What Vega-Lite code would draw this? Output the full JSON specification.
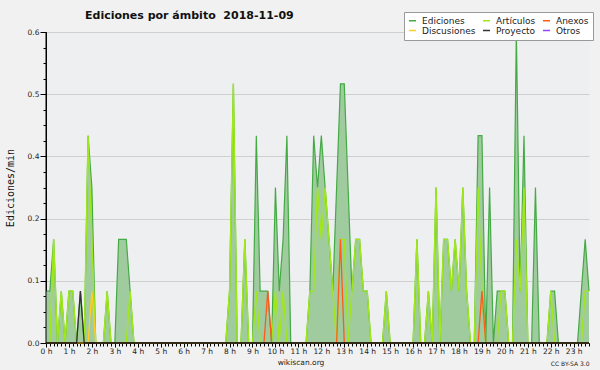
{
 "$schema": "https://vega.github.io/schema/vega-lite/v6.json",
 "width": 543, "height": 311,
 "autosize": {"type": "none"},
 "padding": {"left": 46, "top": 32, "right": 11, "bottom": 27},
 "background": "#f1f1f1",
 "config": {"view": {"fill": "#eeeff1", "stroke": null}, "font": "DejaVu Sans"},
 "title": {"text": "Ediciones por ámbito\u00a0 2018-11-09", "anchor": "start", "frame": "group", "dx": 39, "offset": 0, "dy": 18, "baseline": "alphabetic", "font": "DejaVu Sans", "fontSize": 11, "fontWeight": "bold", "color": "#111111"},
 "data": {"values": [
{"m":0,"e":0.1,"a":0,"x":0,"d":0,"p":0},
{"m":10,"e":0.1,"a":0,"x":0,"d":0,"p":0},
{"m":20,"e":0.2,"a":0.2,"x":0,"d":0,"p":0},
{"m":30,"e":0,"a":0,"x":0,"d":0,"p":0},
{"m":40,"e":0.1,"a":0.1,"x":0,"d":0,"p":0},
{"m":50,"e":0,"a":0,"x":0,"d":0,"p":0},
{"m":60,"e":0.1,"a":0.1,"x":0,"d":0,"p":0},
{"m":70,"e":0.1,"a":0.1,"x":0,"d":0,"p":0},
{"m":80,"e":0,"a":0,"x":0,"d":0,"p":0},
{"m":90,"e":0.1,"a":0,"x":0,"d":0,"p":0.1},
{"m":100,"e":0,"a":0,"x":0,"d":0,"p":0},
{"m":110,"e":0.4,"a":0.4,"x":0,"d":0,"p":0},
{"m":120,"e":0.3,"a":0.2,"x":0,"d":0.1,"p":0},
{"m":130,"e":0,"a":0,"x":0,"d":0,"p":0},
{"m":140,"e":0,"a":0,"x":0,"d":0,"p":0},
{"m":150,"e":0,"a":0,"x":0,"d":0,"p":0},
{"m":160,"e":0.1,"a":0.1,"x":0,"d":0,"p":0},
{"m":170,"e":0,"a":0,"x":0,"d":0,"p":0},
{"m":180,"e":0,"a":0,"x":0,"d":0,"p":0},
{"m":190,"e":0.2,"a":0,"x":0,"d":0,"p":0},
{"m":200,"e":0.2,"a":0,"x":0,"d":0,"p":0},
{"m":210,"e":0.2,"a":0,"x":0,"d":0,"p":0},
{"m":220,"e":0.1,"a":0.1,"x":0,"d":0,"p":0},
{"m":230,"e":0,"a":0,"x":0,"d":0,"p":0},
{"m":240,"e":0,"a":0,"x":0,"d":0,"p":0},
{"m":250,"e":0,"a":0,"x":0,"d":0,"p":0},
{"m":260,"e":0,"a":0,"x":0,"d":0,"p":0},
{"m":270,"e":0,"a":0,"x":0,"d":0,"p":0},
{"m":280,"e":0,"a":0,"x":0,"d":0,"p":0},
{"m":290,"e":0,"a":0,"x":0,"d":0,"p":0},
{"m":300,"e":0,"a":0,"x":0,"d":0,"p":0},
{"m":310,"e":0,"a":0,"x":0,"d":0,"p":0},
{"m":320,"e":0,"a":0,"x":0,"d":0,"p":0},
{"m":330,"e":0,"a":0,"x":0,"d":0,"p":0},
{"m":340,"e":0,"a":0,"x":0,"d":0,"p":0},
{"m":350,"e":0,"a":0,"x":0,"d":0,"p":0},
{"m":360,"e":0,"a":0,"x":0,"d":0,"p":0},
{"m":370,"e":0,"a":0,"x":0,"d":0,"p":0},
{"m":380,"e":0,"a":0,"x":0,"d":0,"p":0},
{"m":390,"e":0,"a":0,"x":0,"d":0,"p":0},
{"m":400,"e":0,"a":0,"x":0,"d":0,"p":0},
{"m":410,"e":0,"a":0,"x":0,"d":0,"p":0},
{"m":420,"e":0,"a":0,"x":0,"d":0,"p":0},
{"m":430,"e":0,"a":0,"x":0,"d":0,"p":0},
{"m":440,"e":0,"a":0,"x":0,"d":0,"p":0},
{"m":450,"e":0,"a":0,"x":0,"d":0,"p":0},
{"m":460,"e":0,"a":0,"x":0,"d":0,"p":0},
{"m":470,"e":0,"a":0,"x":0,"d":0,"p":0},
{"m":480,"e":0.1,"a":0.1,"x":0,"d":0,"p":0},
{"m":490,"e":0.5,"a":0.5,"x":0,"d":0,"p":0},
{"m":500,"e":0,"a":0,"x":0,"d":0,"p":0},
{"m":510,"e":0,"a":0,"x":0,"d":0,"p":0},
{"m":520,"e":0.2,"a":0.2,"x":0,"d":0,"p":0},
{"m":530,"e":0,"a":0,"x":0,"d":0,"p":0},
{"m":540,"e":0,"a":0,"x":0,"d":0,"p":0},
{"m":550,"e":0.4,"a":0.1,"x":0,"d":0,"p":0},
{"m":560,"e":0.1,"a":0,"x":0,"d":0,"p":0},
{"m":570,"e":0.1,"a":0,"x":0,"d":0,"p":0},
{"m":580,"e":0.1,"a":0,"x":0.1,"d":0,"p":0},
{"m":590,"e":0,"a":0,"x":0,"d":0,"p":0},
{"m":600,"e":0.3,"a":0.1,"x":0,"d":0,"p":0},
{"m":610,"e":0.1,"a":0,"x":0,"d":0,"p":0},
{"m":620,"e":0.2,"a":0.1,"x":0,"d":0,"p":0},
{"m":630,"e":0.4,"a":0,"x":0,"d":0,"p":0},
{"m":640,"e":0,"a":0,"x":0,"d":0,"p":0},
{"m":650,"e":0,"a":0,"x":0,"d":0,"p":0},
{"m":660,"e":0,"a":0,"x":0,"d":0,"p":0},
{"m":670,"e":0,"a":0,"x":0,"d":0,"p":0},
{"m":680,"e":0,"a":0,"x":0,"d":0,"p":0},
{"m":690,"e":0.1,"a":0.1,"x":0,"d":0,"p":0},
{"m":700,"e":0.4,"a":0.1,"x":0,"d":0,"p":0},
{"m":710,"e":0.3,"a":0.3,"x":0,"d":0,"p":0},
{"m":720,"e":0.4,"a":0.2,"x":0,"d":0,"p":0},
{"m":730,"e":0.3,"a":0.3,"x":0,"d":0,"p":0},
{"m":740,"e":0.2,"a":0.2,"x":0,"d":0,"p":0},
{"m":750,"e":0.1,"a":0.1,"x":0,"d":0,"p":0},
{"m":760,"e":0.3,"a":0,"x":0,"d":0,"p":0},
{"m":770,"e":0.5,"a":0.2,"x":0.2,"d":0,"p":0},
{"m":780,"e":0.5,"a":0.2,"x":0,"d":0,"p":0},
{"m":790,"e":0.3,"a":0,"x":0,"d":0,"p":0},
{"m":800,"e":0.1,"a":0.1,"x":0,"d":0,"p":0},
{"m":810,"e":0.2,"a":0.2,"x":0,"d":0,"p":0},
{"m":820,"e":0.2,"a":0.2,"x":0,"d":0,"p":0},
{"m":830,"e":0.1,"a":0.1,"x":0,"d":0,"p":0},
{"m":840,"e":0.1,"a":0.1,"x":0,"d":0,"p":0},
{"m":850,"e":0,"a":0,"x":0,"d":0,"p":0},
{"m":860,"e":0,"a":0,"x":0,"d":0,"p":0},
{"m":870,"e":0,"a":0,"x":0,"d":0,"p":0},
{"m":880,"e":0,"a":0,"x":0,"d":0,"p":0},
{"m":890,"e":0.1,"a":0.1,"x":0,"d":0,"p":0},
{"m":900,"e":0,"a":0,"x":0,"d":0,"p":0},
{"m":910,"e":0,"a":0,"x":0,"d":0,"p":0},
{"m":920,"e":0,"a":0,"x":0,"d":0,"p":0},
{"m":930,"e":0,"a":0,"x":0,"d":0,"p":0},
{"m":940,"e":0,"a":0,"x":0,"d":0,"p":0},
{"m":950,"e":0,"a":0,"x":0,"d":0,"p":0},
{"m":960,"e":0,"a":0,"x":0,"d":0,"p":0},
{"m":970,"e":0.2,"a":0.2,"x":0,"d":0,"p":0},
{"m":980,"e":0,"a":0,"x":0,"d":0,"p":0},
{"m":990,"e":0,"a":0,"x":0,"d":0,"p":0},
{"m":1000,"e":0.1,"a":0.1,"x":0,"d":0,"p":0},
{"m":1010,"e":0,"a":0,"x":0,"d":0,"p":0},
{"m":1020,"e":0.3,"a":0.3,"x":0,"d":0,"p":0},
{"m":1030,"e":0,"a":0,"x":0,"d":0,"p":0},
{"m":1040,"e":0.2,"a":0.2,"x":0,"d":0,"p":0},
{"m":1050,"e":0.2,"a":0.2,"x":0,"d":0,"p":0},
{"m":1060,"e":0.1,"a":0.1,"x":0,"d":0,"p":0},
{"m":1070,"e":0.2,"a":0.2,"x":0,"d":0,"p":0},
{"m":1080,"e":0.1,"a":0.1,"x":0,"d":0,"p":0},
{"m":1090,"e":0.3,"a":0.3,"x":0,"d":0,"p":0},
{"m":1100,"e":0.1,"a":0.1,"x":0,"d":0,"p":0},
{"m":1110,"e":0,"a":0,"x":0,"d":0,"p":0},
{"m":1120,"e":0,"a":0,"x":0,"d":0,"p":0},
{"m":1130,"e":0.4,"a":0.3,"x":0,"d":0,"p":0},
{"m":1140,"e":0.4,"a":0.1,"x":0.1,"d":0,"p":0},
{"m":1150,"e":0,"a":0,"x":0,"d":0,"p":0},
{"m":1160,"e":0.3,"a":0,"x":0,"d":0,"p":0},
{"m":1170,"e":0,"a":0,"x":0,"d":0,"p":0},
{"m":1180,"e":0.1,"a":0,"x":0,"d":0,"p":0},
{"m":1190,"e":0.1,"a":0.1,"x":0,"d":0,"p":0},
{"m":1200,"e":0.1,"a":0.1,"x":0,"d":0,"p":0},
{"m":1210,"e":0,"a":0,"x":0,"d":0,"p":0},
{"m":1220,"e":0,"a":0,"x":0,"d":0,"p":0},
{"m":1230,"e":0.6,"a":0.2,"x":0,"d":0,"p":0},
{"m":1240,"e":0.1,"a":0.1,"x":0,"d":0,"p":0},
{"m":1250,"e":0.4,"a":0.3,"x":0,"d":0,"p":0},
{"m":1260,"e":0,"a":0,"x":0,"d":0,"p":0},
{"m":1270,"e":0,"a":0,"x":0,"d":0,"p":0},
{"m":1280,"e":0.3,"a":0,"x":0,"d":0,"p":0},
{"m":1290,"e":0,"a":0,"x":0,"d":0,"p":0},
{"m":1300,"e":0,"a":0,"x":0,"d":0,"p":0},
{"m":1310,"e":0,"a":0,"x":0,"d":0,"p":0},
{"m":1320,"e":0.1,"a":0.1,"x":0,"d":0,"p":0},
{"m":1330,"e":0.1,"a":0,"x":0,"d":0,"p":0},
{"m":1340,"e":0,"a":0,"x":0,"d":0,"p":0},
{"m":1350,"e":0,"a":0,"x":0,"d":0,"p":0},
{"m":1360,"e":0,"a":0,"x":0,"d":0,"p":0},
{"m":1370,"e":0,"a":0,"x":0,"d":0,"p":0},
{"m":1380,"e":0,"a":0,"x":0,"d":0,"p":0},
{"m":1390,"e":0,"a":0,"x":0,"d":0,"p":0},
{"m":1400,"e":0.1,"a":0,"x":0,"d":0,"p":0},
{"m":1410,"e":0.2,"a":0.1,"x":0,"d":0,"p":0},
{"m":1420,"e":0.1,"a":0.1,"x":0,"d":0,"p":0}
 ]},
 "transform": [{"fold": ["e", "a", "x", "d", "p"], "as": ["s", "v"]}],
 "layer": [
  {
   "transform": [{"filter": "datum.s == 'e'"}],
   "mark": {"type": "area", "color": "#9fcb9f", "opacity": 1},
   "encoding": {
    "x": {"field": "m", "type": "quantitative", "scale": {"domain": [0, 1420], "nice": false, "zero": false},
     "axis": {"tickCount": 143, "labelExpr": "datum.value % 60 == 0 ? (datum.value / 60) + ' h' : ''", "labelOverlap": false, "labelFlush": false, "labelFont": "DejaVu Sans", "labelFontSize": 7.5, "labelColor": "#222222", "labelPadding": 0.5, "tickColor": "#000000", "domainColor": "#000000", "tickSize": {"condition": {"test": "datum.value % 60 == 0", "value": 4}, "value": 3}, "grid": false, "title": "wikiscan.org", "titleFont": "DejaVu Sans", "titleFontSize": 7.5, "titleFontWeight": "normal", "titleColor": "#222222", "titleX": 254.5, "titleY": 19, "titleBaseline": "middle", "titleAlign": "center"}},
    "y": {"field": "v", "type": "quantitative", "scale": {"domain": [0, 0.6], "nice": false},
     "axis": {"values": [0, 0.03, 0.06, 0.09, 0.12, 0.15, 0.18, 0.21, 0.24, 0.27, 0.3, 0.33, 0.36, 0.39, 0.42, 0.45, 0.48, 0.51, 0.54, 0.57, 0.6], "labelExpr": "round(datum.value * 100) % 12 == 0 ? format(datum.value, '.1f') : ''", "labelOverlap": false, "tickSize": {"condition": {"test": "round(datum.value * 100) % 12 == 0", "value": 6}, "value": 3}, "gridOpacity": {"condition": {"test": "round(datum.value * 100) % 12 == 0", "value": 1}, "value": 0}, "gridColor": "#cfcfcf", "tickColor": "#000000", "domainColor": "#000000", "labelFont": "DejaVu Sans", "labelFontSize": 7.5, "labelColor": "#222222", "labelPadding": 1, "title": "Ediciones/min", "titleFont": "DejaVu Sans Mono", "titleFontSize": 10, "titleFontWeight": "normal", "titleColor": "#111111", "titleX": -36, "titleY": 155.5, "titleBaseline": "middle", "titleAlign": "center"}}
   }
  },
  {
   "transform": [{"filter": "datum.s == 'e'"}],
   "mark": {"type": "line", "strokeWidth": 1.2},
   "encoding": {
    "x": {"field": "m", "type": "quantitative", "axis": {"orient": "bottom", "labels": false, "ticks": false, "domain": false, "grid": false, "title": "CC BY-SA 3.0", "titleFont": "DejaVu Sans", "titleFontSize": 6, "titleFontWeight": "normal", "titleColor": "#222222", "titleX": 543, "titleY": 20, "titleAlign": "right", "titleBaseline": "middle"}},
    "y": {"field": "v", "type": "quantitative", "axis": null},
    "color": {"datum": "Ediciones",
     "scale": {"domain": ["Ediciones", "Artículos", "Anexos", "Discusiones", "Proyecto", "Otros"], "range": ["#44aa44", "#a0e81a", "#ff5a1a", "#ffcc22", "#333333", "#9944ee"]},
     "legend": {"orient": "none", "legendX": 358, "legendY": -20, "direction": "horizontal", "columns": 3, "title": null, "symbolType": "stroke", "symbolStrokeWidth": 1.5, "symbolSize": 50, "labelFont": "DejaVu Sans", "labelFontSize": 9, "labelColor": "#222222", "fillColor": "#ffffff", "strokeColor": "#999999", "padding": 4, "rowPadding": 0, "columnPadding": 3, "labelOffset": 5, "zindex": 2}}
   }
  },
  {
   "transform": [{"filter": "datum.s == 'a'"}],
   "mark": {"type": "line", "strokeWidth": 1.4},
   "encoding": {
    "x": {"field": "m", "type": "quantitative", "axis": null},
    "y": {"field": "v", "type": "quantitative", "axis": null},
    "color": {"datum": "Artículos", "scale": {"domain": ["Ediciones", "Artículos", "Anexos", "Discusiones", "Proyecto", "Otros"], "range": ["#44aa44", "#a0e81a", "#ff5a1a", "#ffcc22", "#333333", "#9944ee"]}}
   }
  },
  {
   "transform": [{"filter": "datum.s == 'x'"}],
   "mark": {"type": "line", "strokeWidth": 1.3},
   "encoding": {
    "x": {"field": "m", "type": "quantitative", "axis": null},
    "y": {"field": "v", "type": "quantitative", "axis": null},
    "color": {"datum": "Anexos", "scale": {"domain": ["Ediciones", "Artículos", "Anexos", "Discusiones", "Proyecto", "Otros"], "range": ["#44aa44", "#a0e81a", "#ff5a1a", "#ffcc22", "#333333", "#9944ee"]}}
   }
  },
  {
   "transform": [{"filter": "datum.s == 'd'"}],
   "mark": {"type": "line", "strokeWidth": 1.3},
   "encoding": {
    "x": {"field": "m", "type": "quantitative", "axis": null},
    "y": {"field": "v", "type": "quantitative", "axis": null},
    "color": {"datum": "Discusiones", "scale": {"domain": ["Ediciones", "Artículos", "Anexos", "Discusiones", "Proyecto", "Otros"], "range": ["#44aa44", "#a0e81a", "#ff5a1a", "#ffcc22", "#333333", "#9944ee"]}}
   }
  },
  {
   "transform": [{"filter": "datum.s == 'p'"}],
   "mark": {"type": "line", "strokeWidth": 1.3},
   "encoding": {
    "x": {"field": "m", "type": "quantitative", "axis": null},
    "y": {"field": "v", "type": "quantitative", "axis": null},
    "color": {"datum": "Proyecto", "scale": {"domain": ["Ediciones", "Artículos", "Anexos", "Discusiones", "Proyecto", "Otros"], "range": ["#44aa44", "#a0e81a", "#ff5a1a", "#ffcc22", "#333333", "#9944ee"]}}
   }
  },
  {
   "data": {"values": [{}]},
   "mark": {"type": "rule", "color": "#000000", "strokeWidth": 1},
   "encoding": {"y": {"datum": 0, "axis": null}}
  },
  {
   "data": {"values": [{}]},
   "mark": {"type": "rule", "color": "#000000", "strokeWidth": 1},
   "encoding": {"x": {"datum": 0, "axis": null}}
  }
 ],
 "resolve": {"axis": {"x": "independent", "y": "independent"}}
}
